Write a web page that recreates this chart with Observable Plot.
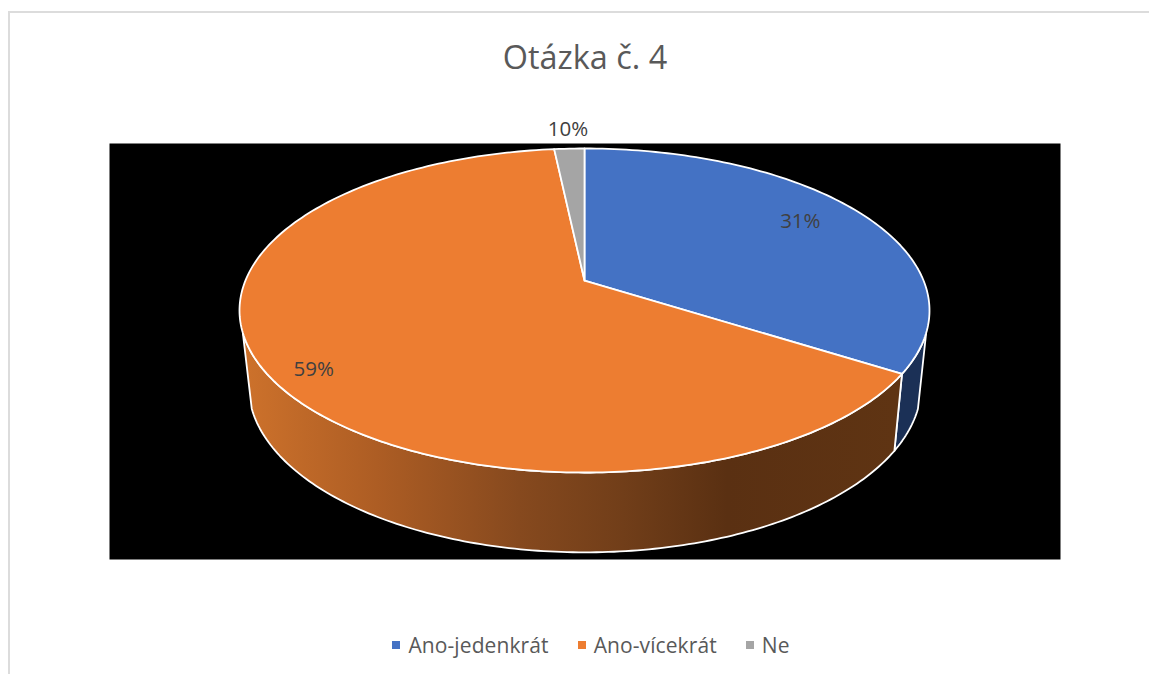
<!DOCTYPE html>
<html lang="cs">
<head>
<meta charset="utf-8">
<script src="https://cdn.jsdelivr.net/npm/d3@7"></script>
<script src="https://cdn.jsdelivr.net/npm/@observablehq/plot@0.6"></script>
<style>
html,body{margin:0;padding:0;background:#fff;}
body{position:relative;width:1149px;height:674px;overflow:hidden;font-family:"Open Sans",sans-serif;color:#595959;}
.edge{position:absolute;left:8px;top:11px;right:0;bottom:0;border-left:2px solid #dcdcdc;border-top:2px solid #dcdcdc;pointer-events:none;}
#title{height:100px;line-height:112px;padding-left:21px;text-align:center;font-size:32.4px;}
#chart svg{display:block;}
#legend{display:flex;justify-content:center;align-items:center;padding:32px 0 0 33px;font-size:21px;line-height:26px;letter-spacing:.1px;}
#legend span.i{display:flex;align-items:center;margin-right:29px;}
#legend span.i:last-child{margin-right:0;}
#legend i{display:block;width:8px;height:8px;margin-right:8px;}
</style>
</head>
<body>
<div class="edge"></div>
<div id="title">Otázka č. 4</div>
<div id="chart"></div>
<div id="legend"></div>
<script>
const categories = ["Ano-jedenkrát", "Ano-vícekrát", "Ne"];
const drawnShares = [31.4, 67.2, 1.4];
const labels = ["31%", "59%", "10%"];
const colors = ["#4472c4", "#ed7d31", "#a5a5a5"];
const wallColors = ["#1b3056", "url(#wall)", "#5a5a5a"];

// top face: rim ellipse in unit coordinates, apex sits off-centre (perspective)
const apexY = 0.185;
const base = {cx: 0.001, cy: -0.463, rx: 0.975, ry: 1.03};
const wallFrom = 98, wallTo = 262;
const labelReach = [0.75, 0.97, 1.09];
const labelDy = [-15, -33, -7];

const rad = d => d * Math.PI / 180, deg = r => r * 180 / Math.PI;
const rim = a => ({x: Math.sin(rad(a)), y: Math.cos(rad(a))});
const rimBase = a => ({x: base.cx + base.rx * Math.sin(rad(a)), y: base.cy + base.ry * Math.cos(rad(a))});
const sweep = (a0, a1, f) => {
  const n = Math.max(2, Math.ceil(Math.abs(a1 - a0)));
  return d3.range(n + 1).map(i => f(a0 + (a1 - a0) * i / n));
};

const slices = d3.pie().sort(null).value(d => d.share)
  (categories.map((name, i) => ({name, share: drawnShares[i], i})))
  .map(s => ({i: s.data.i, a0: deg(s.startAngle), a1: deg(s.endAngle)}));

const topFace = s => [{x: 0, y: apexY}, ...sweep(s.a0, s.a1, rim), {x: 0, y: apexY}];
const wall = s => {
  const a0 = Math.max(s.a0, wallFrom), a1 = Math.min(s.a1, wallTo);
  if (a1 <= a0) return null;
  const pts = [...sweep(a0, a1, rim), ...sweep(a1, a0, rimBase)];
  return [...pts, pts[0]];
};

const lineOpts = (fill, w) => ({x: "x", y: "y", fill, stroke: "#fff", strokeWidth: w, strokeLinejoin: "round"});

const labelMark = s => {
  const r = rim((s.a0 + s.a1) / 2), t = labelReach[s.i];
  return Plot.text([{x: r.x * t, y: apexY + (r.y - apexY) * t, text: labels[s.i]}], {
    x: "x", y: "y", text: "text", dy: labelDy[s.i], fill: "#404040", fontSize: 20.5, fontFamily: "Open Sans"
  });
};

const defs = () => {
  const svg = d3.create("svg:defs");
  const g = svg.append("linearGradient").attr("id", "wall")
    .attr("gradientUnits", "userSpaceOnUse")
    .attr("x1", 247).attr("x2", 895).attr("y1", 0).attr("y2", 0);
  [[0, "#cc712b"], [0.2, "#ad5d24"], [0.42, "#86491e"], [0.58, "#713e19"], [0.74, "#5a3012"], [1, "#5f3413"]]
    .forEach(([o, c]) => g.append("stop").attr("offset", o).attr("stop-color", c));
  return svg.node();
};

const plot = Plot.plot({
  width: 1149, height: 500,
  marginLeft: 109, marginRight: 89, marginTop: 43, marginBottom: 41,
  style: {background: "transparent", overflow: "visible"},
  x: {domain: [-1, 1], range: [239, 929], axis: null},
  y: {domain: [1, -1], range: [48, 372], axis: null},
  marks: [
    defs,
    Plot.frame({fill: "#000"}),
    ...slices.map(s => { const w = wall(s); return w ? Plot.line(w, lineOpts(wallColors[s.i], 1.8)) : null; }),
    ...slices.map(s => Plot.line(topFace(s), lineOpts(colors[s.i], 1.8))),
    ...slices.map(labelMark)
  ]
});
document.getElementById("chart").append(plot);

const legend = d3.select("#legend");
categories.forEach((c, i) => {
  const s = legend.append("span").attr("class", "i");
  s.append("i").style("background", colors[i]);
  s.append("span").text(c);
});
</script>
</body>
</html>
